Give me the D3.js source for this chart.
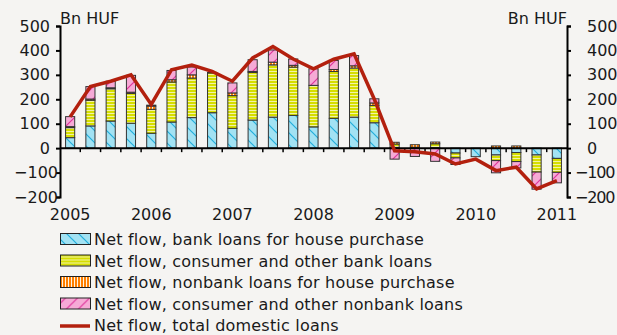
<!DOCTYPE html>
<html>
<head>
<meta charset="utf-8">
<script src="https://cdnjs.cloudflare.com/ajax/libs/d3/7.8.5/d3.min.js"></script>
<style>
  html, body { margin: 0; padding: 0; background: #f5f4f2; }
  svg { display: block; }
</style>
</head>
<body>
<div id="chart"></div>
<script>
// Quarterly data, 2005 Q1 - 2011 Q1 (Bn HUF)
var quarters = ['2005Q1','2005Q2','2005Q3','2005Q4','2006Q1','2006Q2','2006Q3','2006Q4',
  '2007Q1','2007Q2','2007Q3','2007Q4','2008Q1','2008Q2','2008Q3','2008Q4',
  '2009Q1','2009Q2','2009Q3','2009Q4','2010Q1','2010Q2','2010Q3','2010Q4','2011Q1'];
var yearLabels = ['2005','2006','2007','2008','2009','2010','2011'];
var bankHouse = [43, 91, 111, 102, 61, 107, 125, 145, 81, 115, 127, 134, 87, 122, 127, 104,
  3, 0, 2, -20, -35, -28, -18, -28, -42];
var consumerBank = [41, 105, 132, 122, 98, 164, 162, 163, 134, 195, 214, 198, 170, 192, 201, 71,
  14, 4, 16, -20, 0, -23, -37, -70, -57];
var nonbankHouse = [4, 5, 4, 5, 13, 9, 13, 2, 11, 4, 11, 7, 0, 8, 9, 10,
  7, 10, 7, 0, 0, 9, 9, 0, 0];
var consumerNonbank = [41, 51, 27, 69, 4, 38, 32, 0, 41, 48, 50, 26, 68, 37, 42, 17,
  -45, -34, -54, -27, 0, -50, -26, -70, -43];
var totalLoans = [128, 252, 274, 300, 179, 321, 340, 314, 274, 369, 416, 365, 325, 364, 386, 200,
  -11, -15, -24, -65, -45, -92, -78, -167, -133];
var yTicks = [-200, -100, 0, 100, 200, 300, 400, 500];

var seriesNames = [
  'Net flow, bank loans for house purchase',
  'Net flow, consumer and other bank loans',
  'Net flow, nonbank loans for house purchase',
  'Net flow, consumer and other nonbank loans'
];
var lineName = 'Net flow, total domestic loans';

var attrs = {
  svgWidth: 617,
  svgHeight: 335,
  plotLeft: 60,
  plotRight: 567,
  plotTop: 26,
  plotBottom: 197,
  font: 'DejaVu Sans',
  fontSize: 16,
  textFill: '#1a1a1a',
  lineColor: '#b3200e'
};

var svg = d3.select('#chart').append('svg')
  .attr('width', attrs.svgWidth)
  .attr('height', attrs.svgHeight)
  .attr('font-family', attrs.font)
  .attr('font-size', attrs.fontSize)
  .style('background', '#f5f4f2');

// Fill patterns
var defs = svg.append('defs');

function hatch(id, bg, fg, dir) {
  var p = defs.append('pattern').attr('id', id)
    .attr('patternUnits', 'userSpaceOnUse')
    .attr('width', 12).attr('height', 12);
  p.append('rect').attr('width', 12).attr('height', 12).attr('fill', bg);
  var d = dir > 0 ? 'M-1,13 L13,-1 M-7,7 L7,-7 M5,19 L19,5' : 'M-1,-1 L13,13 M-7,5 L7,19 M5,-7 L19,7';
  p.append('path').attr('d', d).attr('stroke', fg).attr('stroke-width', 1.2);
}
hatch('pBlue', '#a2e2f3', '#22aedc', -1);
hatch('pPink', '#f6aad6', '#e0359c', 1);

var py = defs.append('pattern').attr('id', 'pYellow')
  .attr('patternUnits', 'userSpaceOnUse').attr('width', 6).attr('height', 3);
py.append('rect').attr('width', 6).attr('height', 3).attr('fill', '#d6de00');
py.append('rect').attr('y', 2).attr('width', 6).attr('height', 1).attr('fill', '#f2f3a6');

var po = defs.append('pattern').attr('id', 'pOrange')
  .attr('patternUnits', 'userSpaceOnUse').attr('width', 3).attr('height', 6);
po.append('rect').attr('width', 3).attr('height', 6).attr('fill', '#ff7f00');
po.append('rect').attr('x', 2).attr('width', 1).attr('height', 6).attr('fill', '#fff3e0');

var fills = ['url(#pBlue)', 'url(#pYellow)', 'url(#pOrange)', 'url(#pPink)'];

// Scales
var x = d3.scaleBand()
  .domain(quarters)
  .range([attrs.plotLeft, attrs.plotRight])
  .paddingInner(0.55)
  .paddingOuter(0.275);

var y = d3.scaleLinear()
  .domain([-200, 500])
  .range([attrs.plotBottom, attrs.plotTop]);

// Stacked data
var rows = quarters.map(function (q, i) {
  return { q: q, s0: bankHouse[i], s1: consumerBank[i], s2: nonbankHouse[i], s3: consumerNonbank[i] };
});
var stacked = d3.stack()
  .keys(['s0', 's1', 's2', 's3'])
  .offset(d3.stackOffsetDiverging)(rows);

var chart = svg.append('g');

// Bars
chart.selectAll('.series')
  .data(stacked)
  .enter().append('g')
  .attr('class', 'series')
  .attr('fill', function (d, i) { return fills[i]; })
  .selectAll('rect')
  .data(function (d) { return d.filter(function (v) { return v[1] - v[0] !== 0; }); })
  .enter().append('rect')
  .attr('x', function (d) { return x(d.data.q); })
  .attr('width', x.bandwidth())
  .attr('y', function (d) { return y(d[1]); })
  .attr('height', function (d) { return Math.abs(y(d[0]) - y(d[1])); })
  .attr('stroke', '#333')
  .attr('stroke-width', 1);

// Zero line with quarter ticks
var y0 = y(0);
chart.append('line')
  .attr('x1', attrs.plotLeft).attr('x2', attrs.plotRight)
  .attr('y1', y0).attr('y2', y0)
  .attr('stroke', '#000').attr('stroke-width', 2);

var step = x.step();
chart.selectAll('.qtick')
  .data(quarters.slice(0, quarters.length - 1))
  .enter().append('line')
  .attr('class', 'qtick')
  .attr('x1', function (d) { return x(d) + x.bandwidth() + (step - x.bandwidth()) / 2; })
  .attr('x2', function (d) { return x(d) + x.bandwidth() + (step - x.bandwidth()) / 2; })
  .attr('y1', y0).attr('y2', y0 + 4)
  .attr('stroke', '#000').attr('stroke-width', 1.5);

// Total line
var line = d3.line()
  .x(function (d, i) { return x(quarters[i]) + x.bandwidth() / 2; })
  .y(function (d) { return y(d); });

chart.append('path')
  .datum(totalLoans)
  .attr('d', line)
  .attr('fill', 'none')
  .attr('stroke', attrs.lineColor)
  .attr('stroke-width', 3.5)
  .attr('stroke-linejoin', 'miter');

// Y axes
function fmt(d) { return d < 0 ? '\u2212' + Math.abs(d) : String(d); }

var leftAxis = svg.append('g').attr('transform', 'translate(' + attrs.plotLeft + ',0)')
  .call(d3.axisLeft(y).tickValues(yTicks).tickSize(4).tickSizeOuter(4).tickFormat(fmt));
var rightAxis = svg.append('g').attr('transform', 'translate(' + attrs.plotRight + ',0)')
  .call(d3.axisRight(y).tickValues(yTicks).tickSize(4).tickSizeOuter(4).tickFormat(fmt));

[leftAxis, rightAxis].forEach(function (ax) {
  ax.attr('font-family', attrs.font).attr('font-size', attrs.fontSize);
  ax.select('.domain').attr('stroke', '#000').attr('stroke-width', 2);
  ax.selectAll('.tick line').attr('stroke', '#000').attr('stroke-width', 2);
  ax.selectAll('.tick text').attr('fill', attrs.textFill);
});
leftAxis.selectAll('.tick text').attr('x', function (d) { return d < 0 ? -2 : -10; });
// right side: negative labels squeezed a little so they stay inside the frame
rightAxis.selectAll('.tick text')
  .attr('x', function (d) { return d < 0 ? 8 : 20; })
  .attr('letter-spacing', function (d) { return d < 0 ? -1.2 : 0; });

// Unit labels
svg.append('text').attr('x', attrs.plotLeft).attr('y', 23.5)
  .attr('fill', attrs.textFill).text('Bn HUF');
svg.append('text').attr('x', attrs.plotRight).attr('y', 23.5)
  .attr('text-anchor', 'end').attr('fill', attrs.textFill).text('Bn HUF');

// Year labels
svg.selectAll('.year')
  .data(yearLabels)
  .enter().append('text')
  .attr('class', 'year')
  .attr('x', function (d) { return x(d + 'Q1') + x.bandwidth() / 2; })
  .attr('y', 219.5)
  .attr('text-anchor', 'middle')
  .attr('fill', attrs.textFill)
  .text(function (d) { return d; });

// Legend
var legend = svg.append('g').attr('transform', 'translate(60,239)');
var rowH = 21.5;
var items = legend.selectAll('.item')
  .data(seriesNames.concat([lineName]))
  .enter().append('g')
  .attr('class', 'item')
  .attr('transform', function (d, i) { return 'translate(0,' + (i * rowH) + ')'; });

items.each(function (d, i) {
  var g = d3.select(this);
  if (i < 4) {
    g.append('rect').attr('x', 0.5).attr('y', -5.5).attr('width', 30).attr('height', 11)
      .attr('fill', fills[i]).attr('stroke', '#222').attr('stroke-width', 1);
  } else {
    g.append('line').attr('x1', 0).attr('x2', 30).attr('y1', 1).attr('y2', 1)
      .attr('stroke', attrs.lineColor).attr('stroke-width', 3.5);
  }
  g.append('text').attr('x', 34).attr('y', 6)
    .attr('letter-spacing', 0.2)
    .attr('fill', attrs.textFill).text(d);
});
</script>
</body>
</html>
